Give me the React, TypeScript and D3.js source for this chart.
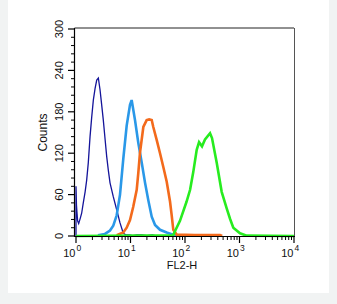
import React from 'react';
import * as d3 from 'd3';

const navyX = [1.0, 1.0, 1.02, 1.04, 1.07, 1.12, 1.2, 1.27, 1.36, 1.47, 1.57, 1.68, 1.81, 1.94, 2.08, 2.24, 2.40, 2.57, 2.76, 2.96, 3.17, 3.4, 3.66, 3.92, 4.21, 4.83, 5.58, 6.42, 7.38, 8.3, 9.5, 11, 13, 16, 20, 25, 30];
const navyY = [0, 72, 45, 35, 22, 18, 26, 33, 48, 64, 81, 106, 144, 172, 197, 214, 226, 229, 212, 190, 168, 142, 115, 95, 77, 57, 38, 19, 4, 1.5, 1.5, 0.5, 1.5, 1.5, 0.5, 1.5, 0];

const blueX = [2.53, 3.40, 4.21, 4.83, 5.58, 6.42, 7.38, 8.51, 9.79, 10.5, 12.1, 13.9, 16.1, 18.5, 21.2, 24.5, 28.2, 34.8, 46.1, 60.3, 80];
const blueY = [1, 3, 8, 15, 30, 60, 112, 160, 190, 197, 168, 135, 106, 77, 52, 28, 16, 9, 5, 2, 0];

const orangeX = [5.58, 7.38, 8.51, 9.79, 11.2, 13.0, 13.9, 14.9, 17.2, 19.8, 22, 24.5, 26.2, 30.3, 34.8, 40.0, 46.1, 53.1, 57.0, 61.0, 70.4, 150, 300, 439, 480];
const orangeY = [1, 5, 12, 23, 42, 67, 91, 120, 158, 168, 169, 168, 158, 139, 120, 100, 79, 50, 30, 9, 2, 1.5, 1.5, 1.5, 0];

const greenX = [1, 60.3, 80.9, 107, 124, 142, 164, 181, 205, 233, 288, 313, 382, 471, 582, 670, 770, 1021, 1356, 10000];
const greenY = [0, 1, 22, 50, 67, 93, 125, 136, 130, 140, 149, 142, 106, 64, 40, 25, 12, 4, 0.5, 0];

const yTicks = [0, 60, 120, 180, 240, 300];
const xDecades = [0, 1, 2, 3, 4];
const xLabel = 'FL2-H';
const yLabel = 'Counts';

const series = [
  { xs: navyX, ys: navyY, color: '#14149a', width: 1.3 },
  { xs: blueX, ys: blueY, color: '#2a98e8', width: 2.6 },
  { xs: orangeX, ys: orangeY, color: '#f36a1c', width: 2.6 },
  { xs: greenX, ys: greenY, color: '#27ec1f', width: 2.6 },
];

export default function App() {
  const W = 337, H = 304;
  const left = 76, right = 294, top = 29, bottom = 236;
  const x = d3.scaleLog().domain([1, 1e4]).range([left, right]);
  const y = d3.scaleLinear().domain([0, 300]).range([bottom, top]);
  const line = d3.line<[number, number]>().x(d => x(d[0])).y(d => y(d[1]));

  const minorY: number[] = d3.range(0, 301, 12).filter(v => v % 60 !== 0);
  const minorX: number[] = [];
  for (let e = 0; e < 4; e++) for (let m = 2; m <= 9; m++) minorX.push(m * Math.pow(10, e));

  const font = 'Liberation Sans, Arial, Helvetica, sans-serif';

  return (
    <svg width={W} height={H} style={{ position: 'absolute', left: 0, top: 0 }} fontFamily={font}>
      <rect x={0} y={0} width={W} height={H} fill="#f1f3f3" />
      <rect x={8} y={0} width={321} height={293} fill="#ffffff" />
      <defs>
        <clipPath id="plotclip">
          <rect x={left - 1} y={top - 2} width={right - left + 2} height={bottom - top + 4} />
        </clipPath>
      </defs>
      {/* frame */}
      <line x1={left - 1.5} x2={right} y1={top - 1} y2={top - 1} stroke="#222" strokeWidth={1} />
      <line x1={right + 0.5} x2={right + 0.5} y1={top - 1} y2={bottom} stroke="#555" strokeWidth={1} />
      {/* curves */}
      <g clipPath="url(#plotclip)">
        {series.map((s, i) => (
          <path key={i}
            d={line(s.xs.map((v, j) => [v, s.ys[j]] as [number, number])) || ''}
            fill="none" stroke={s.color} strokeWidth={s.width} strokeLinejoin="miter" />
        ))}
      </g>
      {/* y axis */}
      <line x1={left - 1.5} x2={left - 1.5} y1={top - 1} y2={bottom + 1} stroke="#000" strokeWidth={1.2} />
      {yTicks.map(t => (
        <g key={'y' + t}>
          <line x1={left - 8} x2={left - 1.5} y1={y(t)} y2={y(t)} stroke="#000" strokeWidth={1.2} />
          <text transform={`translate(${left - 13},${y(t)}) rotate(-90)`} textAnchor="middle" fontSize={11} fill="#111">{t}</text>
        </g>
      ))}
      {minorY.map(t => (
        <line key={'my' + t} x1={left - 5} x2={left - 1.5} y1={y(t)} y2={y(t)} stroke="#000" strokeWidth={1} />
      ))}
      <text transform={`translate(47,${(top + bottom) / 2}) rotate(-90)`} textAnchor="middle" fontSize={12} fill="#111">{yLabel}</text>
      {/* x axis */}
      <line x1={left - 1.5} x2={right + 1} y1={bottom + 0.5} y2={bottom + 0.5} stroke="#000" strokeWidth={1} />
      {xDecades.map(e => (
        <g key={'x' + e}>
          <line x1={x(Math.pow(10, e))} x2={x(Math.pow(10, e))} y1={bottom} y2={bottom + 7} stroke="#000" strokeWidth={1.2} />
          <text x={x(Math.pow(10, e)) - 0.5} y={bottom + 21} textAnchor="end" fontSize={11} fill="#111">10</text>
          <text x={x(Math.pow(10, e)) + 0.5} y={bottom + 15} textAnchor="start" fontSize={8.5} fill="#111">{e}</text>
        </g>
      ))}
      {minorX.map(v => (
        <line key={'mx' + v} x1={x(v)} x2={x(v)} y1={bottom} y2={bottom + 4} stroke="#000" strokeWidth={1} />
      ))}
      <text x={182} y={bottom + 33} textAnchor="middle" fontSize={11} fill="#111">{xLabel}</text>
    </svg>
  );
}
